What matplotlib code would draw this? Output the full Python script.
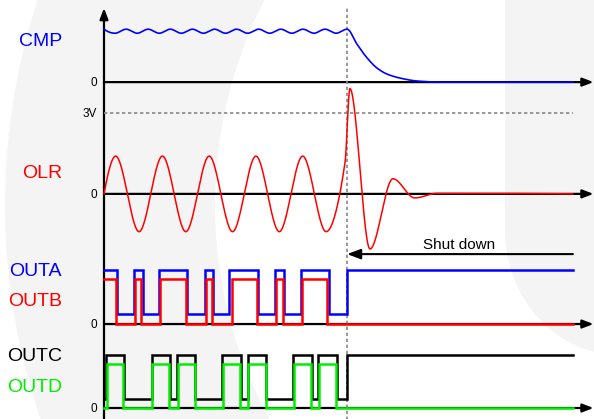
import numpy as np
import matplotlib
matplotlib.use("Agg")
import matplotlib.pyplot as plt
from matplotlib.patches import Wedge, Polygon

plt.rcParams['font.family'] = ['Liberation Sans', 'DejaVu Sans']

# ---- data (time in OLR periods, amplitude in volts) ----
t_shut = 5.2
t_end = 10.03

# CMP: ripple crests/troughs, then the decay after shutdown
cmp_t = [0, 0.236, 0.473, 0.709, 0.945, 1.182, 1.418, 1.655, 1.891, 2.127, 2.364, 2.6,
         2.836, 3.073, 3.309, 3.545, 3.782, 4.018, 4.255, 4.491, 4.727, 4.964, 5.2,
         5.41, 5.63, 5.84, 6.05, 6.33, 6.70, 7.19, 10.03]
cmp_v = [1.96, 1.81, 1.96, 1.81, 1.96, 1.81, 1.96, 1.81, 1.96, 1.81, 1.96, 1.81,
         1.96, 1.81, 1.96, 1.81, 1.96, 1.81, 1.96, 1.81, 1.96, 1.81, 1.96,
         1.41, 0.89, 0.52, 0.30, 0.15, 0.04, 0.0, 0.0]

# OLR: extremes of the resonant voltage, overshoot at shutdown, ringing out
olr_t = [0, 0.25, 0.75, 1.25, 1.75, 2.25, 2.75, 3.25, 3.75, 4.25, 4.75,
         5.155, 5.26, 5.69, 6.18, 6.65, 7.12, 10.03]
olr_v = [0, 1.4, -1.4, 1.4, -1.4, 1.4, -1.4, 1.4, -1.4, 1.4, -1.4,
         1.15, 3.9, -2.04, 0.56, -0.15, 0.02, 0.0]
olr_limit = 3.0

# gate outputs: edge times, first level, high/low levels
outa_edges = [0.284, 0.642, 0.828, 1.176, 1.782, 2.160, 2.338, 2.680, 3.301, 3.658,
              3.857, 4.214, 4.819, 5.2]
outb_edges = [0.257, 0.670, 0.791, 1.198, 1.754, 2.182, 2.316, 2.732, 3.279, 3.679,
              3.822, 4.242, 4.777]
outc_edges = [0.043, 0.434, 1.020, 1.412, 1.555, 1.947, 2.530, 2.924, 3.074, 3.465,
              4.049, 4.443, 4.584, 4.978, 5.2]
outd_edges = [0.071, 0.413, 1.033, 1.390, 1.576, 1.947, 2.552, 2.909, 3.087, 3.465,
              4.064, 4.421, 4.599, 4.963]
outa_lv = (2.0, 0.37)
outb_lv = (1.67, 0.0)
outc_lv = (1.96, 0.33)
outd_lv = (1.63, 0.0)

# row baselines
base_cmp, base_olr, base_ab, base_cd = 12.07, 7.93, 3.11, 0.0


def pchip(xk, yk, xs):
    xk = np.asarray(xk, float); yk = np.asarray(yk, float)
    h = np.diff(xk); d = np.diff(yk) / h
    m = np.zeros_like(yk)
    for k in range(1, len(xk) - 1):
        if d[k - 1] * d[k] > 0:
            w1 = 2 * h[k] + h[k - 1]; w2 = h[k] + 2 * h[k - 1]
            m[k] = (w1 + w2) / (w1 / d[k - 1] + w2 / d[k])
    for i, (a, b, ha, hb) in ((0, (d[0], d[1], h[0], h[1])), (-1, (d[-1], d[-2], h[-1], h[-2]))):
        e = ((2 * ha + hb) * a - ha * b) / (ha + hb)
        if np.sign(e) != np.sign(a):
            e = 0
        elif np.sign(a) != np.sign(b) and abs(e) > 3 * abs(a):
            e = 3 * a
        m[i] = e
    idx = np.clip(np.searchsorted(xk, xs) - 1, 0, len(h) - 1)
    s = (xs - xk[idx]) / h[idx]
    h00 = 2 * s**3 - 3 * s**2 + 1; h10 = s**3 - 2 * s**2 + s
    h01 = -2 * s**3 + 3 * s**2; h11 = s**3 - s**2
    return h00 * yk[idx] + h10 * h[idx] * m[idx] + h01 * yk[idx + 1] + h11 * h[idx] * m[idx + 1]


def square(edges, levels, start_high):
    ts = [0] + list(edges) + [t_end]
    state = start_high
    vs = []
    for _ in range(len(ts) - 1):
        vs.append(levels[0] if state else levels[1])
        state = not state
    vs.append(vs[-1])
    return ts, vs


W, H = 594, 419
fig = plt.figure(figsize=(W / 100, H / 100), dpi=100)

# faint watermark in the background
bg = fig.add_axes([0, 0, 1, 1], zorder=0)
bg.set_xlim(0, W); bg.set_ylim(H, 0); bg.axis('off')
gray = '#f4f4f4'
bg.add_patch(Wedge((665, 205), 660, 0, 360, width=210, color=gray, lw=0))
phi = np.linspace(0, np.pi / 2, 40)
arc = np.column_stack([620 - 115 * np.cos(phi), 230 + 125 * np.sin(phi)])
bg.add_patch(Polygon(np.vstack([[[505, 0]], arc, [[W, 360], [W, 0]]]), color=gray, lw=0))

ax = fig.add_axes([0, 0, 1, 1], zorder=1)
ax.patch.set_alpha(0)
ax.set_xlim(-104 / 46.75, (W - 104) / 46.75)
ax.set_ylim(-11 / 27, 408 / 27)
ax.axis('off')

arrow = dict(arrowstyle='-|>,head_length=0.65,head_width=0.25', lw=1.6, color='k',
             shrinkA=0, shrinkB=0)
for b in (base_cmp, base_olr, base_ab, base_cd):
    ax.annotate('', xy=(10.47, b), xytext=(0, b), arrowprops=arrow, zorder=1)
ax.annotate('', xy=(0, 14.81), xytext=(0, -0.5), arrowprops=arrow, zorder=1)

# shutdown marker and 3V limit
ax.plot([t_shut, t_shut], [-0.5, 14.85], color='#888888', lw=1.2, ls=(0, (2, 1.6)), zorder=3)
ax.plot([0, t_end], [base_olr + olr_limit] * 2, color='#888888', lw=1.2, ls=(0, (2, 1.6)), zorder=3)

ts = np.linspace(0, t_end, 3000)
ax.plot(ts, base_cmp + pchip(cmp_t, cmp_v, ts), color='#0000ff', lw=1.2, zorder=4)
ax.plot(ts, base_olr + pchip(olr_t, olr_v, ts), color='#ff0000', lw=1.1, zorder=4)

for edges, lv, hi, base, col, z in ((outa_edges, outa_lv, True, base_ab, '#0000ff', 4),
                                    (outb_edges, outb_lv, True, base_ab, '#ff0000', 5),
                                    (outc_edges, outc_lv, False, base_cd, '#000000', 4),
                                    (outd_edges, outd_lv, False, base_cd, '#00ee00', 5)):
    tt, vv = square(edges, lv, hi)
    ax.step(tt, np.array(vv) + base, where='post', color=col, lw=1.8, zorder=z,
            solid_joinstyle='miter')

ax.annotate('', xy=(t_shut, 5.70), xytext=(t_end, 5.70),
            arrowprops=dict(arrowstyle='-|>,head_length=0.8,head_width=0.3', lw=1.5,
                            color='k', shrinkA=0, shrinkB=0), zorder=4)
ax.text(7.59, 5.89, 'Shut down', fontsize=11, ha='center', va='baseline')

# row names
lx = -0.898
for txt, y, col in (('CMP', base_cmp + 1.34, '#0000ff'), ('OLR', base_olr + 0.59, '#ff0000'),
                    ('OUTA', base_ab + 1.78, '#0000ff'), ('OUTB', base_ab + 0.67, '#ff0000'),
                    ('OUTC', base_cd + 1.74, '#000000'), ('OUTD', base_cd + 0.59, '#00ee00')):
    ax.text(lx, y, txt, color=col, fontsize=14, ha='right', va='baseline')

for b in (base_cmp, base_olr, base_ab, base_cd):
    ax.text(-0.15, b - 0.15, '0', fontsize=8.5, ha='right', va='baseline')
ax.text(-0.15, base_olr + 2.83, '3V', fontsize=8.5, ha='right', va='baseline')

fig.savefig('out.png', dpi=100)
